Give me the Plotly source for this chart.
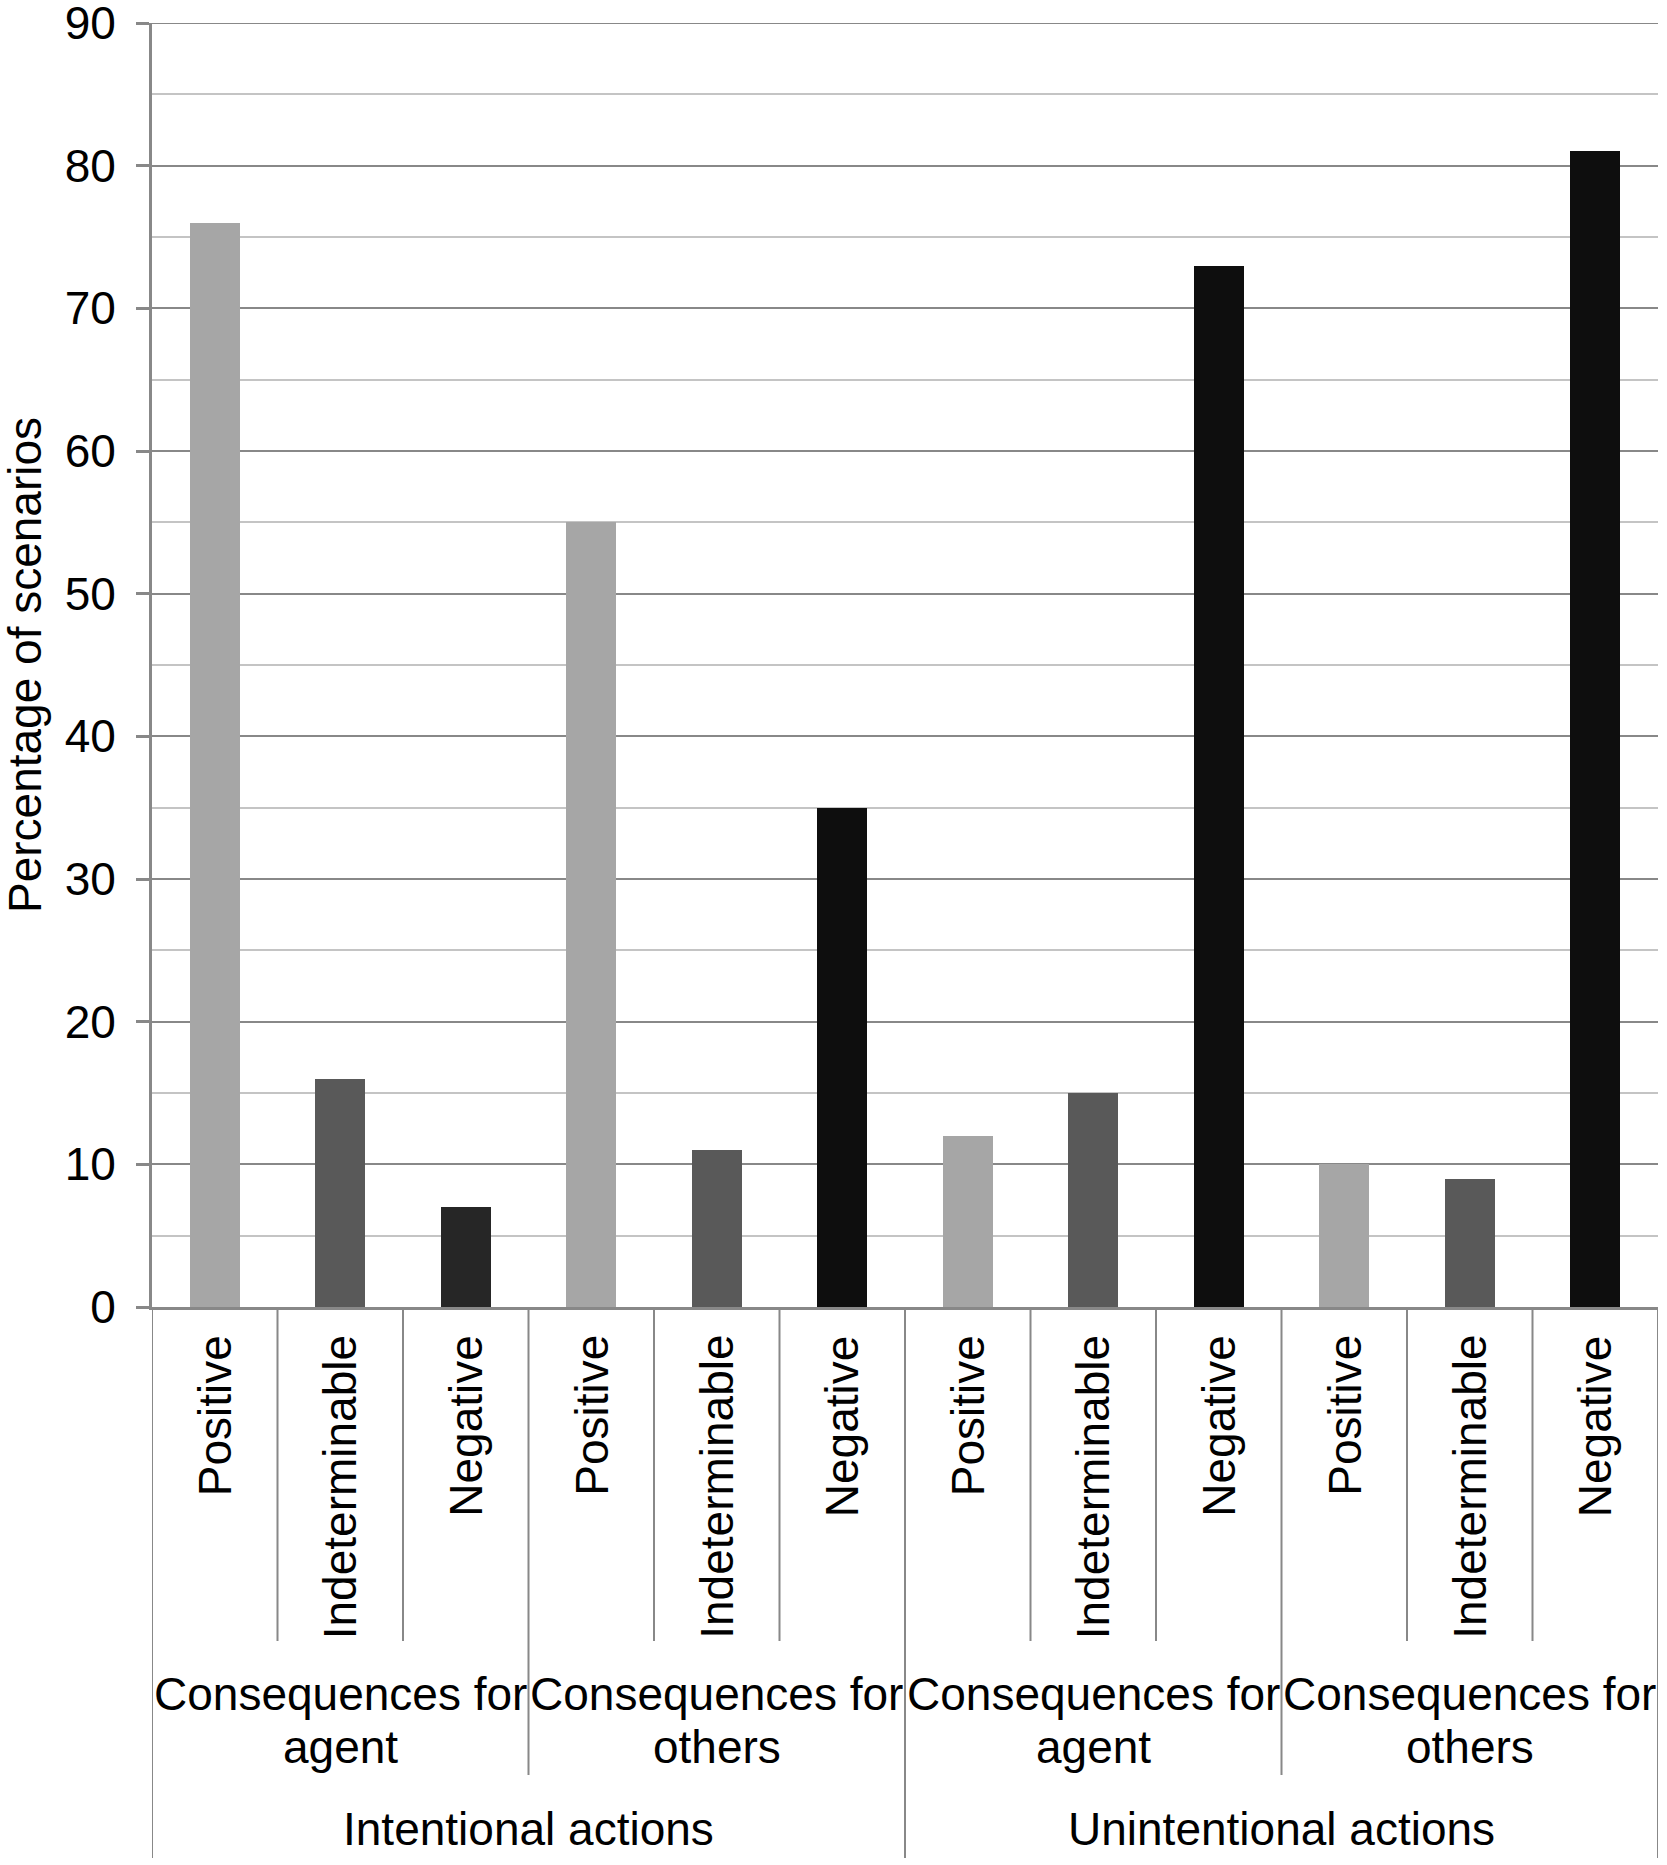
import plotly.graph_objects as go

# data
action_groups = ["Intentional actions", "Unintentional actions"]
consequence_groups = ["Consequences for\nagent", "Consequences for\nothers"]
valences = ["Positive", "Indeterminable", "Negative"]
percentages = [76, 16, 7, 55, 11, 35, 12, 15, 73, 10, 9, 81]
y_ticks = [0, 10, 20, 30, 40, 50, 60, 70, 80, 90]

# styling
FONT = "Liberation Sans, Arial, sans-serif"
FS = 46
GRID = "#888888"
MINOR = "#c4c4c4"
valence_colors = {"Positive": "#a6a6a6", "Indeterminable": "#595959", "Negative": "#0e0e0e"}
first_negative = "#262626"

n_val = len(valences)
n_cons = len(consequence_groups)
n_total = len(action_groups) * n_cons * n_val

xs = list(range(n_total))
colors = []
for i in xs:
    c = valence_colors[valences[i % n_val]]
    if i == n_val - 1:
        c = first_negative
    colors.append(c)

fig = go.Figure()
fig.add_trace(go.Bar(x=xs, y=percentages, width=0.4,
                     marker=dict(color=colors, line=dict(width=0)),
                     showlegend=False))

annotations = []
shapes = []

def divider(xpos, depth):
    shapes.append(dict(type="line", xref="x", yref="paper", ysizemode="pixel",
                       yanchor=0, x0=xpos, x1=xpos, y0=0, y1=-depth,
                       line=dict(color=GRID, width=2)))

# top gridline (plotly drops the one sitting on the plot edge)
shapes.append(dict(type="line", xref="paper", yref="y", x0=0, x1=1,
                   y0=y_ticks[-1], y1=y_ticks[-1], layer="below",
                   line=dict(color=GRID, width=2)))

# level 1: rotated valence labels
for i in xs:
    annotations.append(dict(x=i, y=0, xref="x", yref="paper", yshift=-26,
                            text=valences[i % n_val], textangle=-90,
                            xanchor="center", yanchor="top", showarrow=False,
                            font=dict(family=FONT, size=FS, color="black")))
    if i > 0 and i % n_val != 0:
        divider(i - 0.5, 334)

# level 2: consequence groups
for g in range(len(action_groups) * n_cons):
    center = g * n_val + (n_val - 1) / 2
    lines = consequence_groups[g % n_cons].split("\n")
    for k, line in enumerate(lines):
        annotations.append(dict(x=center, y=0, xref="x", yref="paper",
                                yshift=-(387 + 53 * k), text=line,
                                xanchor="center", yanchor="middle", showarrow=False,
                                font=dict(family=FONT, size=FS, color="black")))
    if g % n_cons != 0:
        divider(g * n_val - 0.5, 468)

# level 3: action groups
for a, name in enumerate(action_groups):
    center = a * n_cons * n_val + (n_cons * n_val - 1) / 2
    annotations.append(dict(x=center, y=0, xref="x", yref="paper", yshift=-522,
                            text=name, xanchor="center", yanchor="middle",
                            showarrow=False,
                            font=dict(family=FONT, size=FS, color="black")))
for a in range(len(action_groups) + 1):
    divider(a * n_cons * n_val - 0.5, 551)

# y axis title
annotations.append(dict(x=0, y=0.5, xref="paper", yref="paper", xshift=-127,
                        text="Percentage of scenarios", textangle=-90,
                        xanchor="center", yanchor="middle", showarrow=False,
                        font=dict(family=FONT, size=FS, color="black")))

fig.update_layout(
    width=1667, height=1865,
    margin=dict(l=152, r=9, t=23, b=558),
    plot_bgcolor="white", paper_bgcolor="white",
    bargap=0,
    annotations=annotations, shapes=shapes,
    font=dict(family=FONT, size=FS, color="black"),
)
fig.update_xaxes(range=[-0.5, n_total - 0.5], showticklabels=False, showgrid=False,
                 zeroline=False, showline=True, linecolor=GRID, linewidth=3, ticks="",
                 automargin=False)
fig.update_yaxes(range=[0, 90], tickvals=y_ticks, showgrid=True, gridcolor=GRID, gridwidth=2,
                 zeroline=False, showline=True, linecolor=GRID, linewidth=3,
                 ticks="outside", ticklen=13, tickwidth=3, tickcolor=GRID,
                 ticklabelstandoff=11, ticklabeloverflow="allow", automargin=False,
                 tickfont=dict(family=FONT, size=FS, color="black"),
                 minor=dict(dtick=5, showgrid=True, gridcolor=MINOR, gridwidth=2, ticks=""))

fig.write_html("out.html", config={"displayModeBar": False},
               post_script="document.body.style.margin='0';")
